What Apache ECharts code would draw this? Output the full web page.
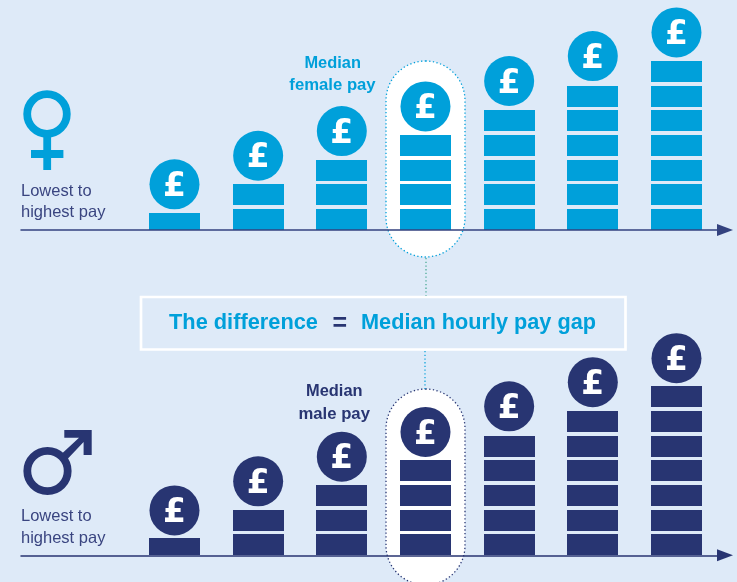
<!DOCTYPE html>
<html>
<head>
<meta charset="utf-8">
<style>
  html, body { margin: 0; padding: 0; background: #deeaf8; }
  #chart { width: 737px; height: 582px; }
</style>
<script src="https://cdn.jsdelivr.net/npm/echarts@6/dist/echarts.min.js"></script>
</head>
<body>
<div id="chart"></div>
<script>
// position of each person, lowest to highest pay
const ranks = [1, 2, 3, 4, 5, 6, 7]
// height of each pile, in coins (the lowest pile is a thinner coin)
const femaleStacks = [0.69, 1.87, 2.85, 3.85, 4.85, 5.85, 6.85]
const maleStacks = [0.69, 1.85, 2.85, 3.85, 4.85, 5.85, 6.85]
// height of the £ disc centre above the axis, in coins
const femaleCoins = [1.85, 3.01, 4.01, 5.01, 6.04, 7.05, 8.01]
const maleCoins = [1.82, 3.00, 4.00, 5.00, 6.04, 7.02, 7.99]

const BLUE = '#00a0da'
const NAVY = '#283572'
const TEXT_NAVY = '#3a4580'
const FONT = '"Liberation Sans", Arial, sans-serif'

const COIN_FILL = 0.851 // share of one coin step that is solid

function zip (values) {
  return ranks.map((r, i) => [r, values[i]])
}

function renderStack (params, api) {
  const x = api.value(0)
  const h = api.value(1)
  const children = []
  for (let k = 0; k < h; k++) {
    const bottom = api.coord([x, k])
    const top = api.coord([x, Math.min(k + COIN_FILL, h)])
    const y0 = Math.round(bottom[1])
    const y1 = Math.round(top[1])
    children.push({
      type: 'rect',
      shape: { x: Math.round(bottom[0] - 25.5), y: y1, width: 51, height: y0 - y1 },
      style: { fill: api.visual('color') }
    })
  }
  return { type: 'group', children }
}

function stackSeries (values, color, index) {
  return {
    type: 'custom',
    xAxisIndex: index,
    yAxisIndex: index,
    renderItem: renderStack,
    itemStyle: { color },
    data: zip(values),
    z: 3
  }
}

function coinSeries (values, color, index) {
  return {
    type: 'scatter',
    xAxisIndex: index,
    yAxisIndex: index,
    symbolSize: 50,
    itemStyle: { color, opacity: 1 },
    label: {
      show: true,
      position: 'inside',
      formatter: '£',
      color: '#fff',
      fontFamily: '"DejaVu Sans", sans-serif',
      fontWeight: 'bold',
      fontSize: 33,
      offset: [0, 3]
    },
    emphasis: { disabled: true },
    data: zip(values),
    z: 4
  }
}

function xAxis (gridIndex, color) {
  return {
    gridIndex,
    type: 'value',
    min: -0.8346,
    max: 7.58,
    axisLabel: { show: false },
    axisTick: { show: false },
    splitLine: { show: false },
    axisLine: {
      show: true,
      onZero: false,
      symbol: ['none', 'triangle'],
      symbolSize: [12, 16],
      lineStyle: { color, width: 1.5 }
    },
    z: 5
  }
}

function yAxis (gridIndex) {
  return { gridIndex, type: 'value', min: 0, max: 9, show: false }
}

function text (x, y, str, color, size, weight, align) {
  return {
    type: 'text',
    x,
    y,
    z: 6,
    style: {
      text: str,
      fill: color,
      fontFamily: FONT,
      fontSize: size,
      fontWeight: weight || 'normal',
      align: align || 'left',
      verticalAlign: 'middle'
    }
  }
}

function capsule (y, height, color) {
  return {
    type: 'rect',
    z: -1,
    shape: { x: 386, y, width: 79, height, r: 40 },
    style: { fill: '#fff', stroke: color, lineWidth: 1.3, lineDash: [1.3, 2.4] }
  }
}

function connector (x, y1, y2, color) {
  return {
    type: 'line',
    z: -1,
    shape: { x1: x, y1, x2: x, y2 },
    style: { stroke: color, lineWidth: 1.2, lineDash: [1.3, 2.4] }
  }
}

const graphic = [
  capsule(61, 196, BLUE),
  capsule(389, 196, NAVY),
  connector(426, 258, 296, '#3fa58f'),
  connector(425, 351, 389, BLUE),

  // the difference box
  {
    type: 'rect',
    z: 1,
    shape: { x: 141, y: 297, width: 484.5, height: 52.5 },
    style: { fill: 'none', stroke: '#fff', lineWidth: 2.7 }
  },
  text(169, 323, 'The difference', BLUE, 21.8, 'bold'),
  text(339.7, 324, '=', NAVY, 25, 'bold', 'center'),
  text(361, 323, 'Median hourly pay gap', BLUE, 21.7, 'bold'),

  text(332.7, 63, 'Median', BLUE, 16.4, 'bold', 'center'),
  text(332.5, 85, 'female pay', BLUE, 16.7, 'bold', 'center'),
  text(334.3, 391.5, 'Median', NAVY, 16.4, 'bold', 'center'),
  text(334.2, 414, 'male pay', NAVY, 16.7, 'bold', 'center'),

  text(21, 191, 'Lowest to', TEXT_NAVY, 16.5),
  text(21, 212, 'highest pay', TEXT_NAVY, 16.5),
  text(21, 516, 'Lowest to', TEXT_NAVY, 16.5),
  text(21, 538, 'highest pay', TEXT_NAVY, 16.5),

  // female symbol
  { type: 'circle', shape: { cx: 47, cy: 114, r: 19.8 }, style: { fill: 'none', stroke: BLUE, lineWidth: 7.8 } },
  { type: 'rect', shape: { x: 43.3, y: 136, width: 7.8, height: 34 }, style: { fill: BLUE } },
  { type: 'rect', shape: { x: 31, y: 150, width: 32.4, height: 8 }, style: { fill: BLUE } },

  // male symbol
  { type: 'circle', shape: { cx: 47.5, cy: 471, r: 20.2 }, style: { fill: 'none', stroke: NAVY, lineWidth: 7.8 } },
  {
    type: 'polygon',
    shape: {
      points: [[64.3, 430], [91.7, 430], [91.7, 455], [83.6, 455], [83.6, 442], [67.5, 459], [62, 453.5], [79, 437.7], [64.3, 437.7]]
    },
    style: { fill: NAVY }
  }
]

const chart = echarts.init(document.getElementById('chart'))
chart.setOption({
  animation: false,
  backgroundColor: '#deeaf8',
  tooltip: { show: false },
  grid: [
    { left: 21, right: 12, top: 8, height: 222 },
    { left: 21, right: 12, top: 333.3, height: 222 }
  ],
  xAxis: [xAxis(0, '#33427f'), xAxis(1, NAVY)],
  yAxis: [yAxis(0), yAxis(1)],
  graphic,
  series: [
    stackSeries(femaleStacks, BLUE, 0),
    coinSeries(femaleCoins, BLUE, 0),
    stackSeries(maleStacks, NAVY, 1),
    coinSeries(maleCoins, NAVY, 1)
  ]
})
</script>
</body>
</html>
